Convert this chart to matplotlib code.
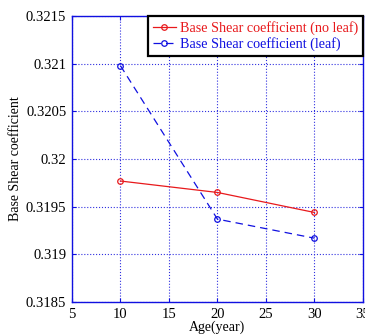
import matplotlib
matplotlib.use("Agg")
import matplotlib.pyplot as plt

age = [10, 20, 30]
no_leaf = [0.31977, 0.31965, 0.31944]
leaf = [0.32098, 0.31937, 0.31917]
xticks = [5, 10, 15, 20, 25, 30, 35]
yticks = [0.3185, 0.319, 0.3195, 0.32, 0.3205, 0.321, 0.3215]
ytick_labels = ["0.3185", "0.319", "0.3195", "0.32", "0.3205", "0.321", "0.3215"]

plt.rcParams["font.family"] = ["Liberation Serif", "DejaVu Serif"]
plt.rcParams["font.size"] = 10.5

fig = plt.figure(figsize=(3.65, 3.36), dpi=100)
ax = fig.add_axes([0.197, 0.101, 0.7975, 0.851])

ax.plot(age, no_leaf, "-o", color="#e8191c", lw=0.9, ms=4, mfc="none", mew=0.9,
        label="Base Shear coefficient (no leaf)")
ax.plot(age, leaf, "--o", color="#1010e0", lw=0.9, ms=4, mfc="none", mew=0.9,
        dashes=(6, 4), label="Base Shear coefficient (leaf)")

ax.set_xlim(5, 35)
ax.set_ylim(0.3185, 0.3215)
ax.set_xticks(xticks)
ax.set_yticks(yticks)
ax.set_yticklabels(ytick_labels)
ax.grid(True, color="#3030e0", ls=":", lw=0.8)
ax.tick_params(direction="in", color="#1010e0", top=True, right=True, length=3, pad=4)
for s in ax.spines.values():
    s.set_color("#1010e0")
    s.set_linewidth(1.0)

ax.set_xlabel("Age(year)", labelpad=0, fontsize=10)
ax.set_ylabel("Base Shear coefficient", labelpad=3, fontsize=10)

leg = ax.legend(loc="upper right", bbox_to_anchor=(1.0, 1.0), borderaxespad=0,
                fancybox=False, framealpha=1, edgecolor="black", handlelength=1.6,
                borderpad=0.35, labelspacing=0.15, handletextpad=0.3, fontsize=10.2)
leg.get_frame().set_linewidth(1.6)
for t, c in zip(leg.get_texts(), ["#e8191c", "#1010e0"]):
    t.set_color(c)

fig.savefig("out.png", dpi=100)
